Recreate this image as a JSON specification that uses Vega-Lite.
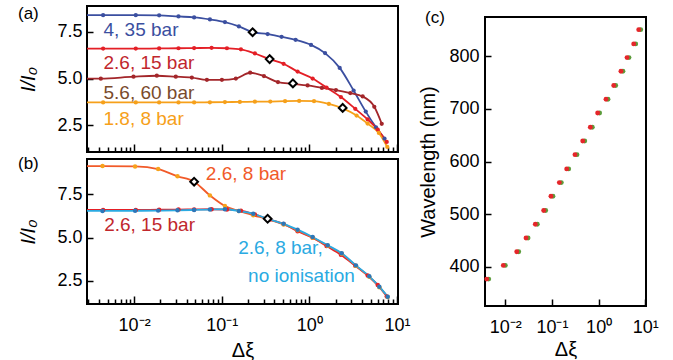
{
  "$schema": "https://vega.github.io/schema/vega-lite/v6.json",
  "background": "white",
  "padding": {"left": 17, "top": 4, "right": 0, "bottom": 0},
  "autosize": {"type": "pad"},
  "config": {
    "font": "Liberation Sans",
    "view": {"stroke": "black", "strokeWidth": 2},
    "axis": {"domain": false, "grid": false, "ticks": true, "tickColor": "black", "tickWidth": 1.5, "labelColor": "black", "labelFontSize": 18, "labelFont": "Liberation Sans", "titleFont": "Liberation Sans", "titleFontSize": 20, "titleFontWeight": "normal", "titleColor": "black", "labelFlush": false, "labelOverlap": false},
    "title": {"font": "Liberation Sans", "fontSize": 17, "fontWeight": "normal", "color": "black"}
  },
  "datasets": {
    "a_lines": [
      {"series": "4, 35 bar", "x": 0.0025, "y": 8.39}, {"series": "4, 35 bar", "x": 0.00443, "y": 8.39}, {"series": "4, 35 bar", "x": 0.01045, "y": 8.39}, {"series": "4, 35 bar", "x": 0.0193, "y": 8.38}, {"series": "4, 35 bar", "x": 0.0321, "y": 8.32}, {"series": "4, 35 bar", "x": 0.0484, "y": 8.27}, {"series": "4, 35 bar", "x": 0.0733, "y": 8.16}, {"series": "4, 35 bar", "x": 0.1087, "y": 8.02}, {"series": "4, 35 bar", "x": 0.157, "y": 7.79}, {"series": "4, 35 bar", "x": 0.225, "y": 7.48}, {"series": "4, 35 bar", "x": 0.334, "y": 7.38}, {"series": "4, 35 bar", "x": 0.482, "y": 7.23}, {"series": "4, 35 bar", "x": 0.697, "y": 7.07}, {"series": "4, 35 bar", "x": 1.045, "y": 6.8}, {"series": "4, 35 bar", "x": 1.51, "y": 6.36}, {"series": "4, 35 bar", "x": 2.22, "y": 5.57}, {"series": "4, 35 bar", "x": 3.2, "y": 4.36}, {"series": "4, 35 bar", "x": 4.4, "y": 3.23}, {"series": "4, 35 bar", "x": 5.76, "y": 2.39}, {"series": "4, 35 bar", "x": 7.2, "y": 1.79},
      {"series": "2.6, 15 bar", "x": 0.0025, "y": 6.6}, {"series": "2.6, 15 bar", "x": 0.00443, "y": 6.6}, {"series": "2.6, 15 bar", "x": 0.01045, "y": 6.6}, {"series": "2.6, 15 bar", "x": 0.0193, "y": 6.61}, {"series": "2.6, 15 bar", "x": 0.0321, "y": 6.62}, {"series": "2.6, 15 bar", "x": 0.0484, "y": 6.63}, {"series": "2.6, 15 bar", "x": 0.0766, "y": 6.64}, {"series": "2.6, 15 bar", "x": 0.1146, "y": 6.62}, {"series": "2.6, 15 bar", "x": 0.1655, "y": 6.56}, {"series": "2.6, 15 bar", "x": 0.239, "y": 6.34}, {"series": "2.6, 15 bar", "x": 0.352, "y": 6.04}, {"series": "2.6, 15 bar", "x": 0.508, "y": 5.79}, {"series": "2.6, 15 bar", "x": 0.734, "y": 5.37}, {"series": "2.6, 15 bar", "x": 1.09, "y": 5.0}, {"series": "2.6, 15 bar", "x": 1.57, "y": 4.52}, {"series": "2.6, 15 bar", "x": 2.29, "y": 4.01}, {"series": "2.6, 15 bar", "x": 3.34, "y": 3.38}, {"series": "2.6, 15 bar", "x": 4.63, "y": 2.81}, {"series": "2.6, 15 bar", "x": 6.03, "y": 2.27}, {"series": "2.6, 15 bar", "x": 7.64, "y": 1.61},
      {"series": "5.6, 60 bar", "x": 0.0025, "y": 4.99}, {"series": "5.6, 60 bar", "x": 0.00417, "y": 4.99}, {"series": "5.6, 60 bar", "x": 0.00984, "y": 5.1}, {"series": "5.6, 60 bar", "x": 0.01816, "y": 5.15}, {"series": "5.6, 60 bar", "x": 0.0299, "y": 5.1}, {"series": "5.6, 60 bar", "x": 0.0456, "y": 5.05}, {"series": "5.6, 60 bar", "x": 0.0677, "y": 4.93}, {"series": "5.6, 60 bar", "x": 0.1004, "y": 4.93}, {"series": "5.6, 60 bar", "x": 0.145, "y": 5.0}, {"series": "5.6, 60 bar", "x": 0.211, "y": 5.31}, {"series": "5.6, 60 bar", "x": 0.303, "y": 5.13}, {"series": "5.6, 60 bar", "x": 0.438, "y": 4.81}, {"series": "5.6, 60 bar", "x": 0.649, "y": 4.72}, {"series": "5.6, 60 bar", "x": 0.955, "y": 4.63}, {"series": "5.6, 60 bar", "x": 1.39, "y": 4.5}, {"series": "5.6, 60 bar", "x": 2.01, "y": 4.38}, {"series": "5.6, 60 bar", "x": 2.93, "y": 4.22}, {"series": "5.6, 60 bar", "x": 4.06, "y": 4.04}, {"series": "5.6, 60 bar", "x": 5.51, "y": 3.49}, {"series": "5.6, 60 bar", "x": 6.7, "y": 2.58},
      {"series": "1.8, 8 bar", "x": 0.0025, "y": 3.72}, {"series": "1.8, 8 bar", "x": 0.00443, "y": 3.72}, {"series": "1.8, 8 bar", "x": 0.01045, "y": 3.72}, {"series": "1.8, 8 bar", "x": 0.0193, "y": 3.72}, {"series": "1.8, 8 bar", "x": 0.0321, "y": 3.72}, {"series": "1.8, 8 bar", "x": 0.0484, "y": 3.72}, {"series": "1.8, 8 bar", "x": 0.0733, "y": 3.73}, {"series": "1.8, 8 bar", "x": 0.1087, "y": 3.74}, {"series": "1.8, 8 bar", "x": 0.161, "y": 3.75}, {"series": "1.8, 8 bar", "x": 0.239, "y": 3.76}, {"series": "1.8, 8 bar", "x": 0.358, "y": 3.77}, {"series": "1.8, 8 bar", "x": 0.528, "y": 3.79}, {"series": "1.8, 8 bar", "x": 0.765, "y": 3.8}, {"series": "1.8, 8 bar", "x": 1.13, "y": 3.79}, {"series": "1.8, 8 bar", "x": 1.67, "y": 3.64}, {"series": "1.8, 8 bar", "x": 2.4, "y": 3.4}, {"series": "1.8, 8 bar", "x": 3.46, "y": 3.02}, {"series": "1.8, 8 bar", "x": 4.62, "y": 2.59}, {"series": "1.8, 8 bar", "x": 6.21, "y": 2.09}, {"series": "1.8, 8 bar", "x": 7.75, "y": 1.34}
    ],
    "a_diam": [
      {"x": 0.225, "y": 7.48}, {"x": 0.352, "y": 6.04}, {"x": 0.649, "y": 4.74}, {"x": 2.4, "y": 3.43}
    ],
    "a_text": [
      {"series": "4, 35 bar", "label": "4, 35 bar", "x": 0.00447, "y": 7.59},
      {"series": "2.6, 15 bar", "label": "2.6, 15 bar", "x": 0.00447, "y": 5.82},
      {"series": "5.6, 60 bar", "label": "5.6, 60 bar", "x": 0.00447, "y": 4.22},
      {"series": "1.8, 8 bar", "label": "1.8, 8 bar", "x": 0.00447, "y": 2.82}
    ],
    "b_lines": [
      {"series": "2.6, 15 bar", "x": 0.0025, "y": 6.6}, {"series": "2.6, 15 bar", "x": 0.00443, "y": 6.6}, {"series": "2.6, 15 bar", "x": 0.01045, "y": 6.6}, {"series": "2.6, 15 bar", "x": 0.0193, "y": 6.61}, {"series": "2.6, 15 bar", "x": 0.0321, "y": 6.62}, {"series": "2.6, 15 bar", "x": 0.0484, "y": 6.63}, {"series": "2.6, 15 bar", "x": 0.0766, "y": 6.64}, {"series": "2.6, 15 bar", "x": 0.1146, "y": 6.62}, {"series": "2.6, 15 bar", "x": 0.1655, "y": 6.56}, {"series": "2.6, 15 bar", "x": 0.239, "y": 6.34}, {"series": "2.6, 15 bar", "x": 0.352, "y": 6.04}, {"series": "2.6, 15 bar", "x": 0.508, "y": 5.79}, {"series": "2.6, 15 bar", "x": 0.734, "y": 5.37}, {"series": "2.6, 15 bar", "x": 1.09, "y": 5.0}, {"series": "2.6, 15 bar", "x": 1.57, "y": 4.52}, {"series": "2.6, 15 bar", "x": 2.29, "y": 4.01}, {"series": "2.6, 15 bar", "x": 3.34, "y": 3.38}, {"series": "2.6, 15 bar", "x": 4.63, "y": 2.81}, {"series": "2.6, 15 bar", "x": 6.03, "y": 2.27}, {"series": "2.6, 15 bar", "x": 7.64, "y": 1.61},
      {"series": "2.6, 8 bar", "x": 0.0025, "y": 9.13}, {"series": "2.6, 8 bar", "x": 0.00436, "y": 9.13}, {"series": "2.6, 8 bar", "x": 0.01026, "y": 9.11}, {"series": "2.6, 8 bar", "x": 0.0188, "y": 8.96}, {"series": "2.6, 8 bar", "x": 0.0313, "y": 8.54}, {"series": "2.6, 8 bar", "x": 0.0484, "y": 8.23}, {"series": "2.6, 8 bar", "x": 0.0733, "y": 7.44}, {"series": "2.6, 8 bar", "x": 0.1087, "y": 6.83}, {"series": "2.6, 8 bar", "x": 0.157, "y": 6.54}, {"series": "2.6, 8 bar", "x": 0.229, "y": 6.29}, {"series": "2.6, 8 bar", "x": 0.334, "y": 6.07}, {"series": "2.6, 8 bar", "x": 0.508, "y": 5.76}, {"series": "2.6, 8 bar", "x": 0.734, "y": 5.42}, {"series": "2.6, 8 bar", "x": 1.09, "y": 5.0}, {"series": "2.6, 8 bar", "x": 1.62, "y": 4.53}, {"series": "2.6, 8 bar", "x": 2.34, "y": 4.07}, {"series": "2.6, 8 bar", "x": 3.4, "y": 3.37}, {"series": "2.6, 8 bar", "x": 4.83, "y": 2.74}, {"series": "2.6, 8 bar", "x": 6.29, "y": 2.14}, {"series": "2.6, 8 bar", "x": 7.84, "y": 1.57},
      {"series": "no ionisation", "x": 0.0025, "y": 6.54}, {"series": "no ionisation", "x": 0.00436, "y": 6.54}, {"series": "no ionisation", "x": 0.01026, "y": 6.55}, {"series": "no ionisation", "x": 0.0188, "y": 6.56}, {"series": "no ionisation", "x": 0.0313, "y": 6.58}, {"series": "no ionisation", "x": 0.0484, "y": 6.6}, {"series": "no ionisation", "x": 0.0733, "y": 6.62}, {"series": "no ionisation", "x": 0.1087, "y": 6.64}, {"series": "no ionisation", "x": 0.157, "y": 6.54}, {"series": "no ionisation", "x": 0.229, "y": 6.38}, {"series": "no ionisation", "x": 0.334, "y": 6.09}, {"series": "no ionisation", "x": 0.508, "y": 5.8}, {"series": "no ionisation", "x": 0.734, "y": 5.46}, {"series": "no ionisation", "x": 1.09, "y": 5.04}, {"series": "no ionisation", "x": 1.62, "y": 4.56}, {"series": "no ionisation", "x": 2.34, "y": 4.1}, {"series": "no ionisation", "x": 3.4, "y": 3.4}, {"series": "no ionisation", "x": 4.83, "y": 2.77}, {"series": "no ionisation", "x": 6.29, "y": 2.17}, {"series": "no ionisation", "x": 7.84, "y": 1.59}
    ],
    "b_diam": [
      {"x": 0.0484, "y": 8.23}, {"x": 0.334, "y": 6.09}
    ],
    "b_text": [
      {"series": "2.6, 8 bar", "label": "2.6, 8 bar", "x": 0.0659, "y": 8.65},
      {"series": "2.6, 15 bar", "label": "2.6, 15 bar", "x": 0.00455, "y": 5.73},
      {"series": "no ionisation", "label": "2.6, 8 bar,", "x": 0.154, "y": 4.42},
      {"series": "no ionisation", "label": "no ionisation", "x": 0.2, "y": 2.79}
    ],
    "c_pts": [
      {"kind": "g", "x": 0.00441, "wl": 377}, {"kind": "g", "x": 0.01, "wl": 403}, {"kind": "g", "x": 0.01937, "wl": 429}, {"kind": "g", "x": 0.0307, "wl": 455}, {"kind": "g", "x": 0.0485, "wl": 481}, {"kind": "g", "x": 0.0733, "wl": 507}, {"kind": "g", "x": 0.105, "wl": 534}, {"kind": "g", "x": 0.1586, "wl": 560}, {"kind": "g", "x": 0.2279, "wl": 586}, {"kind": "g", "x": 0.3434, "wl": 613}, {"kind": "g", "x": 0.503, "wl": 639}, {"kind": "g", "x": 0.7319, "wl": 665}, {"kind": "g", "x": 1.05, "wl": 692}, {"kind": "g", "x": 1.5855, "wl": 718}, {"kind": "g", "x": 2.3205, "wl": 744}, {"kind": "g", "x": 3.318, "wl": 771}, {"kind": "g", "x": 4.473, "wl": 797}, {"kind": "g", "x": 6.2265, "wl": 823}, {"kind": "g", "x": 7.97, "wl": 850},
      {"kind": "r", "x": 0.004, "wl": 377}, {"kind": "r", "x": 0.00907, "wl": 403}, {"kind": "r", "x": 0.01757, "wl": 429}, {"kind": "r", "x": 0.0278, "wl": 455}, {"kind": "r", "x": 0.044, "wl": 481}, {"kind": "r", "x": 0.0665, "wl": 507}, {"kind": "r", "x": 0.0952, "wl": 534}, {"kind": "r", "x": 0.1438, "wl": 560}, {"kind": "r", "x": 0.2067, "wl": 586}, {"kind": "r", "x": 0.3114, "wl": 613}, {"kind": "r", "x": 0.4562, "wl": 639}, {"kind": "r", "x": 0.6638, "wl": 665}, {"kind": "r", "x": 0.952, "wl": 692}, {"kind": "r", "x": 1.438, "wl": 718}, {"kind": "r", "x": 2.105, "wl": 744}, {"kind": "r", "x": 3.01, "wl": 771}, {"kind": "r", "x": 4.057, "wl": 797}, {"kind": "r", "x": 5.648, "wl": 823}, {"kind": "r", "x": 7.229, "wl": 850}
    ]
  },
  "spacing": 6,
  "bounds": "full",
  "hconcat": [
    {
      "vconcat": [
        {
          "width": 311,
          "height": 146,
          "title": {"text": "(a)", "anchor": "start", "frame": "group", "orient": "top", "offset": 0, "baseline": "middle", "dx": -69, "dy": 25},
          "encoding": {
            "x": {"field": "x", "type": "quantitative", "scale": {"type": "log", "domain": [0.0029, 10.27], "nice": false},
              "axis": {"values": [0.003, 0.004, 0.005, 0.006, 0.007, 0.008, 0.009, 0.01, 0.02, 0.03, 0.04, 0.05, 0.06, 0.07, 0.08, 0.09, 0.1, 0.2, 0.3, 0.4, 0.5, 0.6, 0.7, 0.8, 0.9, 1, 2, 3, 4, 5, 6, 7, 8, 9, 10],
                "labels": false, "title": null,
                "tickSize": {"condition": {"test": "datum.value == 0.01 || datum.value == 0.1 || datum.value == 1 || datum.value == 10", "value": -8}, "value": -5}}},
            "y": {"field": "y", "type": "quantitative", "scale": {"domain": [1.07, 8.88], "nice": false, "zero": false},
              "axis": {"values": [2.5, 5, 7.5], "format": ".1f", "tickSize": -6, "labelPadding": 11, "title": "I/I₀", "titleFontStyle": "italic", "titlePadding": 18}}
          },
          "layer": [
            {"data": {"name": "a_lines"}, "mark": {"type": "line", "strokeWidth": 1.8, "clip": true, "interpolate": "monotone"},
              "encoding": {"color": {"field": "series", "type": "nominal", "scale": {"domain": ["4, 35 bar", "2.6, 15 bar", "5.6, 60 bar", "1.8, 8 bar"], "range": ["#3b4fa0", "#e41f26", "#a3262a", "#f6a01a"]}, "legend": null}}},
            {"data": {"name": "a_lines"}, "mark": {"type": "circle", "size": 18, "opacity": 1, "clip": true},
              "encoding": {"color": {"field": "series", "type": "nominal", "scale": {"domain": ["4, 35 bar", "2.6, 15 bar", "5.6, 60 bar", "1.8, 8 bar"], "range": ["#3b4fa0", "#e41f26", "#a3262a", "#f6a01a"]}, "legend": null}}},
            {"data": {"name": "a_diam"}, "mark": {"type": "point", "shape": "diamond", "size": 60, "filled": false, "fill": "white", "stroke": "black", "strokeWidth": 2, "opacity": 1}, "encoding": {}},
            {"data": {"name": "a_text"}, "mark": {"type": "text", "align": "left", "baseline": "middle", "fontSize": 19},
              "encoding": {"text": {"field": "label"}, "color": {"field": "series", "type": "nominal", "scale": {"domain": ["4, 35 bar", "2.6, 15 bar", "5.6, 60 bar", "1.8, 8 bar"], "range": ["#3b4fa0", "#c1272d", "#7a4b2c", "#f6a01a"]}, "legend": null}}}
          ],
          "resolve": {"scale": {"color": "independent"}}
        },
        {
          "width": 311,
          "height": 145,
          "title": {"text": "(b)", "anchor": "start", "frame": "group", "orient": "top", "offset": 0, "baseline": "middle", "dx": -69, "dy": 22},
          "encoding": {
            "x": {"field": "x", "type": "quantitative", "scale": {"type": "log", "domain": [0.0029, 10.27], "nice": false},
              "axis": {"values": [0.003, 0.004, 0.005, 0.006, 0.007, 0.008, 0.009, 0.01, 0.02, 0.03, 0.04, 0.05, 0.06, 0.07, 0.08, 0.09, 0.1, 0.2, 0.3, 0.4, 0.5, 0.6, 0.7, 0.8, 0.9, 1, 2, 3, 4, 5, 6, 7, 8, 9, 10],
                "labelExpr": "datum.value == 0.01 ? '10⁻²' : datum.value == 0.1 ? '10⁻¹' : datum.value == 1 ? '10⁰' : datum.value == 10 ? '10¹' : ''",
                "labelPadding": 20, "title": "Δξ", "titlePadding": 3,
                "tickSize": {"condition": {"test": "datum.value == 0.01 || datum.value == 0.1 || datum.value == 1 || datum.value == 10", "value": -8}, "value": -5}}},
            "y": {"field": "y", "type": "quantitative", "scale": {"domain": [1.17, 9.54], "nice": false, "zero": false},
              "axis": {"values": [2.5, 5, 7.5], "format": ".1f", "tickSize": -6, "labelPadding": 11, "title": "I/I₀", "titleFontStyle": "italic", "titlePadding": 18}}
          },
          "layer": [
            {"data": {"name": "b_lines"}, "mark": {"type": "line", "strokeWidth": 1.8, "clip": true, "interpolate": "monotone"},
              "encoding": {"color": {"field": "series", "type": "nominal", "scale": {"domain": ["2.6, 15 bar", "2.6, 8 bar", "no ionisation"], "range": ["#e41f26", "#f15a29", "#2aaae2"]}, "legend": null}}},
            {"data": {"name": "b_lines"}, "mark": {"type": "circle", "size": 20, "opacity": 1, "clip": true},
              "encoding": {"color": {"field": "series", "type": "nominal", "scale": {"domain": ["2.6, 15 bar", "2.6, 8 bar", "no ionisation"], "range": ["#e41f26", "#f7a21b", "#2b78ba"]}, "legend": null}}},
            {"data": {"name": "b_diam"}, "mark": {"type": "point", "shape": "diamond", "size": 60, "filled": false, "fill": "white", "stroke": "black", "strokeWidth": 2, "opacity": 1}, "encoding": {}},
            {"data": {"name": "b_text"}, "mark": {"type": "text", "align": "left", "baseline": "middle", "fontSize": 19},
              "encoding": {"text": {"field": "label"}, "color": {"field": "series", "type": "nominal", "scale": {"domain": ["2.6, 15 bar", "2.6, 8 bar", "no ionisation"], "range": ["#c1272d", "#f15a29", "#2aaae2"]}, "legend": null}}}
          ],
          "resolve": {"scale": {"color": "independent"}}
        }
      ],
      "spacing": 7,
      "bounds": "flush"
    },
    {
      "vconcat": [
        {
          "width": 161,
          "height": 1,
          "view": {"stroke": null},
          "data": {"values": [{"s": 0}]},
          "mark": {"type": "point", "size": 0, "opacity": 0}
        },
        {
          "width": 161,
          "height": 289,
          "title": {"text": "(c)", "anchor": "start", "frame": "group", "orient": "top", "offset": 0, "baseline": "middle", "dx": -60, "dy": 18},
          "data": {"name": "c_pts"},
          "mark": {"type": "circle", "size": 24, "opacity": 1},
          "encoding": {
            "x": {"field": "x", "type": "quantitative", "scale": {"type": "log", "domain": [0.00367, 10.35], "nice": false},
              "axis": {"values": [0.01, 0.1, 1, 10],
                "labelExpr": "datum.value == 0.01 ? '10⁻²' : datum.value == 0.1 ? '10⁻¹' : datum.value == 1 ? '10⁰' : datum.value == 10 ? '10¹' : ''",
                "tickSize": -7, "labelPadding": 19, "title": "Δξ", "titlePadding": 3}},
            "y": {"field": "wl", "type": "quantitative", "scale": {"domain": [326, 874], "nice": false, "zero": false},
              "axis": {"values": [400, 500, 600, 700, 800], "tickSize": -6, "labelPadding": 12, "title": "Wavelength (nm)", "titlePadding": 10}},
            "color": {"field": "kind", "type": "nominal", "scale": {"domain": ["g", "r"], "range": ["#5c9c3b", "#e5262a"]}, "legend": null}
          }
        }
      ],
      "spacing": 10,
      "bounds": "flush"
    }
  ]
}
